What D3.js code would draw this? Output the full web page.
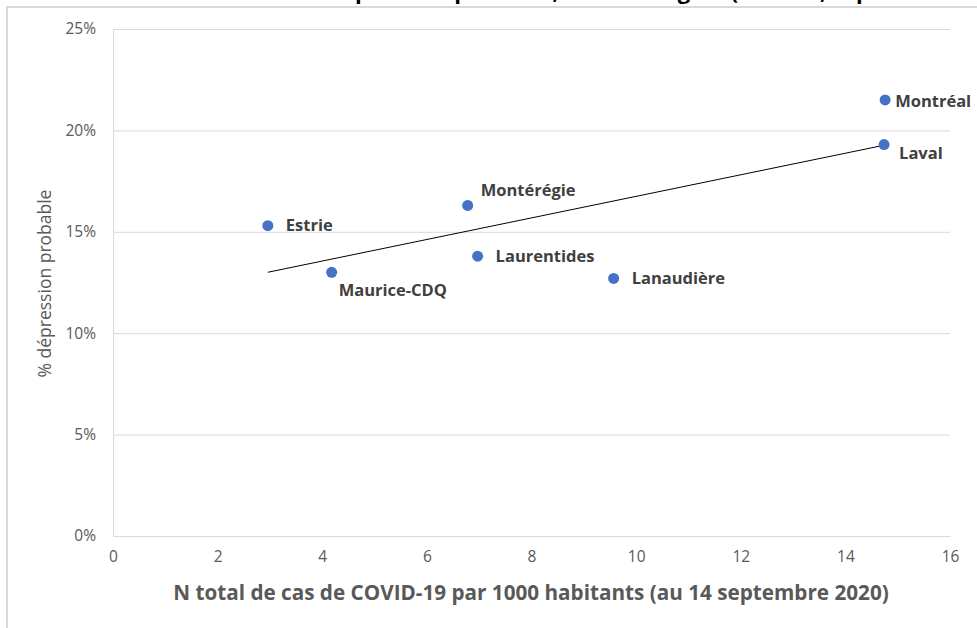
<!DOCTYPE html>
<html>
<head>
<meta charset="utf-8">
<script src="https://cdn.jsdelivr.net/npm/d3@7"></script>
<style>
  body { margin: 0; background: #fff; }
  svg { display: block; font-family: "Open Sans", "Noto Sans", sans-serif; }
</style>
</head>
<body>
<svg id="chart"></svg>
<script>
// Data
const regions = ['Montréal', 'Laval', 'Montérégie', 'Estrie', 'Laurentides', 'Maurice-CDQ', 'Lanaudière'];
const casesPer1000 = [14.76, 14.74, 6.78, 2.96, 6.97, 4.18, 9.57];
const depression = [0.215, 0.193, 0.163, 0.153, 0.138, 0.130, 0.127];
const xTicks = [0, 2, 4, 6, 8, 10, 12, 14, 16];
const yTicks = [0, 0.05, 0.10, 0.15, 0.20, 0.25];

// label placement relative to each point (dx, dy)
const labelOffset = {
    'Montréal': [10, 1],
    'Laval': [15, 9],
    'Montérégie': [13, -15],
    'Estrie': [18, 0],
    'Laurentides': [18, 0],
    'Maurice-CDQ': [7, 18],
    'Lanaudière': [18, 0]
};

const W = 977, H = 628;
const margin = { top: 29, right: 27, bottom: 92, left: 113 };
const width = W - margin.left - margin.right;
const height = H - margin.top - margin.bottom;

const svg = d3.select('#chart')
    .attr('width', W)
    .attr('height', H);

// chart frame (only top and left visible in the crop)
svg.append('path')
    .attr('d', `M7,${H} V7 H${W}`)
    .attr('fill', 'none')
    .attr('stroke', '#d9d9d9')
    .attr('stroke-width', 2);

// title, cut off by the top of the picture
svg.append('text')
    .attr('x', 670)
    .attr('y', -1)
    .attr('text-anchor', 'middle')
    .attr('font-size', 22)
    .attr('font-weight', 'bold')
    .attr('fill', '#000')
    .text('Dépression probable, selon la région (adultes, septembre 2020)');

const g = svg.append('g')
    .attr('transform', `translate(${margin.left},${margin.top})`);

const xScale = d3.scaleLinear().domain([0, 16]).range([0, width]);
const yScale = d3.scaleLinear().domain([0, 0.25]).range([height, 0]);

// horizontal gridlines
g.append('g')
    .attr('class', 'grid')
    .call(d3.axisLeft(yScale).tickValues(yTicks).tickSize(-width).tickFormat(''))
    .call(a => a.select('.domain').remove())
    .call(a => a.selectAll('line').attr('stroke', '#d9d9d9'));

// y axis
g.append('g')
    .call(d3.axisLeft(yScale).tickValues(yTicks).tickSize(0).tickPadding(17)
        .tickFormat(d3.format('.0%')))
    .call(a => a.select('.domain').attr('stroke', '#d9d9d9'))
    .call(a => a.selectAll('text')
        .attr('fill', '#595959')
        .attr('font-size', 15.5)
        .attr('font-family', '"Open Sans", sans-serif'));

// x axis
g.append('g')
    .attr('transform', `translate(0,${height})`)
    .call(d3.axisBottom(xScale).tickValues(xTicks).tickSize(0).tickPadding(15))
    .call(a => a.select('.domain').attr('stroke', '#d9d9d9'))
    .call(a => a.selectAll('text')
        .attr('fill', '#595959')
        .attr('font-size', 15.5)
        .attr('font-family', '"Open Sans", sans-serif'));

// axis titles
svg.append('text')
    .attr('transform', `translate(51,${margin.top + height / 2 + 1}) rotate(-90)`)
    .attr('text-anchor', 'middle')
    .attr('font-size', 17.5)
    .attr('fill', '#595959')
    .text('% dépression probable');

svg.append('text')
    .attr('x', 531)
    .attr('y', 600)
    .attr('text-anchor', 'middle')
    .attr('font-size', 20.7)
    .attr('font-weight', 'bold')
    .attr('fill', '#595959')
    .text('N total de cas de COVID-19 par 1000 habitants (au 14 septembre 2020)');

// linear trendline (least squares)
const mx = d3.mean(casesPer1000), my = d3.mean(depression);
const sxy = d3.sum(casesPer1000, (x, i) => (x - mx) * (depression[i] - my));
const sxx = d3.sum(casesPer1000, x => (x - mx) * (x - mx));
const slope = sxy / sxx, intercept = my - slope * mx;
const [x0, x1] = d3.extent(casesPer1000);

g.append('line')
    .attr('x1', xScale(x0)).attr('y1', yScale(intercept + slope * x0))
    .attr('x2', xScale(x1)).attr('y2', yScale(intercept + slope * x1))
    .attr('stroke', '#000')
    .attr('stroke-width', 1);

// points
g.selectAll('.dot')
    .data(regions)
    .enter()
    .append('circle')
    .attr('class', 'dot')
    .attr('cx', (d, i) => xScale(casesPer1000[i]))
    .attr('cy', (d, i) => yScale(depression[i]))
    .attr('r', 5.5)
    .attr('fill', '#4472c4');

// labels
g.selectAll('.lbl')
    .data(regions)
    .enter()
    .append('text')
    .attr('class', 'lbl')
    .attr('x', (d, i) => xScale(casesPer1000[i]) + labelOffset[d][0])
    .attr('y', (d, i) => yScale(depression[i]) + labelOffset[d][1])
    .attr('dy', '0.35em')
    .attr('font-size', 16.5)
    .attr('font-weight', 'bold')
    .attr('fill', '#404040')
    .text(d => d);
</script>
</body>
</html>
